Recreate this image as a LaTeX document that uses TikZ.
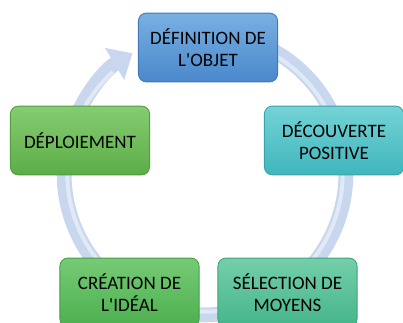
\documentclass[tikz,border=0pt]{standalone}
\usepackage{fontspec}
\setmainfont{Carlito}
\usetikzlibrary{arrows.meta}
\definecolor{ringblue}{HTML}{C8D6EE}
\definecolor{ringlight}{HTML}{E0E9F6}
\definecolor{defTop}{HTML}{78B0E2}
\definecolor{defBot}{HTML}{4A88CC}
\definecolor{defLine}{HTML}{4178B6}
\definecolor{decTop}{HTML}{74D3D6}
\definecolor{decBot}{HTML}{3FB6BD}
\definecolor{decLine}{HTML}{3AA3AA}
\definecolor{selTop}{HTML}{74CFAA}
\definecolor{selBot}{HTML}{45B58A}
\definecolor{selLine}{HTML}{3EA37C}
\definecolor{creTop}{HTML}{76CB76}
\definecolor{creBot}{HTML}{4CAF4E}
\definecolor{creLine}{HTML}{449E46}
\definecolor{depTop}{HTML}{86CC72}
\definecolor{depBot}{HTML}{5BAE47}
\definecolor{depLine}{HTML}{529D40}
\begin{document}
\begin{tikzpicture}[x=0.025cm,y=-0.025cm,
        stage/.style={rounded corners=0.2cm,minimum width=3.48cm,minimum height=1.72cm,
            align=center,text=black,line width=0.6pt,
            font=\fontsize{13.5}{15.4}\selectfont},
        ring/.style={line width=0.37cm,draw=ringblue}]
        \useasboundingbox (0,0) rectangle (403,323);
        \clip (0,0) rectangle (403,323);
        %% ring with arrow
        \coordinate (O) at (205,174);
        \draw[ring,-{Triangle[width=0.9cm,length=0.52cm]}] (O) ++(70:3.52cm) arc[start angle=70,end angle=-239,radius=3.52cm];
        \draw[line width=0.1cm,ringlight] (O) ++(70:3.44cm) arc[start angle=70,end angle=-228,radius=3.44cm];
        %% stages
        \node[stage,top color=defTop,bottom color=defBot,draw=defLine] (def) at (208,47.5) {DÉFINITION DE\\L\textquotesingle OBJET};
        \node[stage,top color=decTop,bottom color=decBot,draw=decLine] (dec) at (334,140.5) {DÉCOUVERTE\\POSITIVE};
        \node[stage,top color=selTop,bottom color=selBot,draw=selLine] (sel) at (287.5,292.5) {SÉLECTION DE\\MOYENS};
        \node[stage,top color=creTop,bottom color=creBot,draw=creLine] (cre) at (129.5,292.5) {CRÉATION DE\\L\textquotesingle IDÉAL};
        \node[stage,top color=depTop,bottom color=depBot,draw=depLine] (dep) at (80,140.5) {DÉPLOIEMENT};
\end{tikzpicture}
\end{document}
